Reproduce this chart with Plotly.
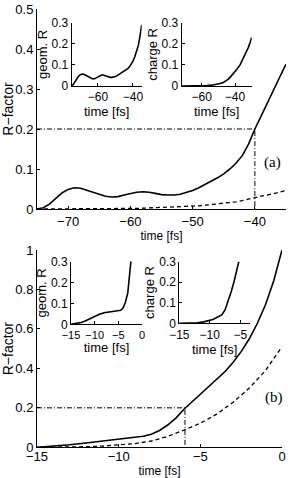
import plotly.graph_objects as go

# ---------------- data ----------------
# panel (a): main R-factor (solid) and charge contribution (dashed)
a_time = [-75, -74, -73, -72, -71, -70, -69, -68, -67, -66, -65, -64, -63, -62, -61,
          -60, -59, -58, -57, -56, -55, -54, -53, -52, -51, -50, -49, -48, -47, -46,
          -45, -44, -43, -42, -41, -40, -39, -38, -37, -36, -35]
a_total = [0, 0.003, 0.012, 0.026, 0.040, 0.049, 0.053, 0.052, 0.047, 0.041, 0.036, 0.032,
           0.030, 0.031, 0.035, 0.039, 0.042, 0.043, 0.042, 0.039, 0.036, 0.035, 0.035, 0.037,
           0.041, 0.046, 0.053, 0.061, 0.069, 0.078, 0.088, 0.100, 0.115, 0.134, 0.163, 0.200,
           0.232, 0.266, 0.298, 0.330, 0.362]
a_dashed = [0, 0, 0, 0, 0, 0, 0, 0, 0, 0, 0, 0, 0, 0, 0.0005,
            0.001, 0.0015, 0.002, 0.0025, 0.003, 0.0035, 0.004, 0.005, 0.006, 0.0065, 0.007,
            0.008, 0.0095, 0.011, 0.012, 0.014, 0.016, 0.018, 0.021, 0.025, 0.029,
            0.032, 0.035, 0.038, 0.042, 0.046]
a_geom = [0, 0.008, 0.022, 0.036, 0.047, 0.054, 0.057, 0.056, 0.051, 0.045, 0.039, 0.035,
          0.033, 0.034, 0.038, 0.044, 0.049, 0.052, 0.052, 0.049, 0.045, 0.042, 0.041, 0.041,
          0.042, 0.045, 0.049, 0.054, 0.059, 0.064, 0.069, 0.075, 0.082, 0.091, 0.103, 0.118,
          0.137, 0.160, 0.190, 0.235, 0.290]
a_charge_time = [-72, -66, -60, -57, -54, -51, -49, -47, -45, -44, -43, -42, -41, -39, -37,
                 -35, -33, -32, -31, -30]
a_charge = [0, 0, 0.001, 0.002, 0.004, 0.008, 0.012, 0.017, 0.026, 0.033, 0.041, 0.049,
            0.057, 0.078, 0.100, 0.131, 0.163, 0.183, 0.205, 0.230]
a_threshold = 0.2
a_cross_time = -40

# panel (b)
b_time = [-15, -14, -13, -12, -11, -10, -9, -8.5, -8, -7.5, -7, -6.5, -6, -5.5, -5, -4.5,
          -4, -3.5, -3, -2.5, -2, -1.5, -1, -0.5, 0]
b_total = [0, 0.005, 0.013, 0.022, 0.031, 0.040, 0.050, 0.056, 0.066, 0.085, 0.113, 0.148,
           0.193, 0.231, 0.267, 0.303, 0.341, 0.383, 0.430, 0.485, 0.550, 0.630, 0.725,
           0.845, 1.0]
b_dashed_time = [-15, -14, -13, -12, -11, -10, -9, -8, -7, -6, -5, -4, -3, -2, -1, 0]
b_dashed = [0, 0, 0.001, 0.003, 0.006, 0.011, 0.019, 0.032, 0.055, 0.087, 0.122, 0.168,
            0.228, 0.300, 0.390, 0.510]
b_geom_time = [-15, -14, -13, -12, -11, -10, -9, -8, -7, -6, -5, -4.5, -4, -3.5, -3, -2.5, -2]
b_geom = [0, 0.003, 0.008, 0.016, 0.027, 0.038, 0.048, 0.055, 0.058, 0.060, 0.063, 0.067,
          0.078, 0.105, 0.150, 0.260, 0.380]
b_charge_time = [-15, -13, -12, -11, -10, -9.5, -9, -8.5, -8, -7.5, -7, -6.5, -6, -5.5, -5]
b_charge = [0, 0.001, 0.003, 0.007, 0.013, 0.019, 0.026, 0.033, 0.042, 0.065, 0.105, 0.152,
            0.205, 0.265, 0.330]
b_threshold = 0.2
b_cross_time = -5.94

# ---------------- layout helpers ----------------
W, H = 288, 478


def dom_x(left, right):
    return [left / W, right / W]


def dom_y(top, bottom):
    return [1 - bottom / H, 1 - top / H]


FONT = "Liberation Sans, Arial, Helvetica, sans-serif"


def axis(size=13, **kw):
    d = dict(showline=True, linecolor="black", linewidth=1, ticks="inside", ticklen=3,
             tickwidth=1, tickcolor="black", showgrid=False, zeroline=False, mirror=False,
             tickfont=dict(family=FONT, size=size, color="black"), fixedrange=True,
             automargin=False, tickangle=0)
    d.update(kw)
    return d


fig = go.Figure()

solid = dict(color="black", width=1.6)
dashed = dict(color="black", width=1.3, dash="4px,3px")
dashdot = dict(color="black", width=1, dash="5px,2px,1px,2px")

# panel (a) main
fig.add_trace(go.Scatter(x=a_time, y=a_total, mode="lines", line=solid, xaxis="x", yaxis="y"))
fig.add_trace(go.Scatter(x=a_time, y=a_dashed, mode="lines", line=dashed, xaxis="x", yaxis="y"))
fig.add_trace(go.Scatter(x=[a_time[0], a_cross_time, a_cross_time], y=[a_threshold, a_threshold, 0],
                         mode="lines", line=dashdot, xaxis="x", yaxis="y"))
# panel (a) insets
fig.add_trace(go.Scatter(x=a_time, y=a_geom, mode="lines", line=solid, xaxis="x2", yaxis="y2"))
fig.add_trace(go.Scatter(x=a_charge_time, y=a_charge, mode="lines", line=solid, xaxis="x3", yaxis="y3"))

# panel (b) main
fig.add_trace(go.Scatter(x=b_time, y=b_total, mode="lines", line=solid, xaxis="x4", yaxis="y4"))
fig.add_trace(go.Scatter(x=b_dashed_time, y=b_dashed, mode="lines", line=dashed, xaxis="x4", yaxis="y4"))
fig.add_trace(go.Scatter(x=[b_time[0], b_cross_time, b_cross_time], y=[b_threshold, b_threshold, 0],
                         mode="lines", line=dashdot, xaxis="x4", yaxis="y4"))
# panel (b) insets
fig.add_trace(go.Scatter(x=b_geom_time, y=b_geom, mode="lines", line=solid, xaxis="x5", yaxis="y5"))
fig.add_trace(go.Scatter(x=b_charge_time, y=b_charge, mode="lines", line=solid, xaxis="x6", yaxis="y6"))


def xtitle_main(standoff):
    return dict(text="time [fs]", font=dict(family=FONT, size=12, color="black"), standoff=standoff)


xtitle_inset = dict(text="time [fs]", font=dict(family=FONT, size=13, color="black"), standoff=0)
ytitle_main = dict(text="R\u2212factor", font=dict(family=FONT, size=14, color="black"), standoff=2)


def ytitle_inset(t):
    return dict(text=t, font=dict(family=FONT, size=13, color="black"), standoff=1)


fig.update_layout(
    width=W, height=H, margin=dict(l=0, r=0, t=0, b=0, autoexpand=False),
    paper_bgcolor="white", plot_bgcolor="rgba(0,0,0,0)", showlegend=False,
    # (a) main
    xaxis=axis(domain=dom_x(37, 286), range=[-75, -35], tickvals=[-70, -60, -50, -40],
               anchor="y", title=xtitle_main(2)),
    yaxis=axis(domain=dom_y(9, 209), range=[0, 0.5], tickvals=[0, 0.1, 0.2, 0.3, 0.4, 0.5],
               anchor="x", title=ytitle_main),
    # (a) inset geom
    xaxis2=axis(size=12, domain=dom_x(71.7, 141.7), range=[-75, -35], tickvals=[-60, -40],
                anchor="y2", title=xtitle_inset),
    yaxis2=axis(size=12, domain=dom_y(22.7, 86), range=[0, 0.3], tickvals=[0, 0.1, 0.2, 0.3],
                anchor="x2", title=ytitle_inset("geom. R")),
    # (a) inset charge
    xaxis3=axis(size=12, domain=dom_x(181.7, 251.7), range=[-72, -30], tickvals=[-60, -40],
                anchor="y3", title=xtitle_inset),
    yaxis3=axis(size=12, domain=dom_y(22.7, 86), range=[0, 0.3], tickvals=[0, 0.1, 0.2, 0.3],
                anchor="x3", title=ytitle_inset("charge R")),
    # (b) main
    xaxis4=axis(domain=dom_x(37, 282), range=[-15, 0], tickvals=[-15, -10, -5, 0],
                anchor="y4", title=xtitle_main(4), ticklabelstandoff=-3),
    yaxis4=axis(domain=dom_y(250, 447.3), range=[0, 1], tickvals=[0, 0.2, 0.4, 0.6, 0.8, 1],
                anchor="x4", title=ytitle_main),
    # (b) inset geom
    xaxis5=axis(size=11, domain=dom_x(71, 142), range=[-15, 0], tickvals=[-15, -10, -5, 0],
                anchor="y5", title=xtitle_inset),
    yaxis5=axis(size=12, domain=dom_y(261.5, 324.3), range=[0, 0.3], tickvals=[0, 0.1, 0.2, 0.3],
                anchor="x5", title=ytitle_inset("geom. R")),
    # (b) inset charge
    xaxis6=axis(size=12, domain=dom_x(179.3, 250), range=[-15, -3.4], tickvals=[-15, -10, -5],
                anchor="y6", title=xtitle_inset),
    yaxis6=axis(size=12, domain=dom_y(261.7, 323.3), range=[0, 0.3], tickvals=[0, 0.1, 0.2, 0.3],
                anchor="x6", title=ytitle_inset("charge R")),
    annotations=[
        dict(text="(a)", x=262 / W, y=1 - 163 / H, xref="paper", yref="paper", showarrow=False,
             xanchor="left",
             font=dict(family="Liberation Serif, Times New Roman, serif", size=15, color="black")),
        dict(text="(b)", x=263 / W, y=1 - 408 / H, xref="paper", yref="paper", showarrow=False,
             xanchor="left",
             font=dict(family="Liberation Serif, Times New Roman, serif", size=15, color="black")),
    ],
)

fig.write_html("out.html", config={"displayModeBar": False},
               post_script="document.body.style.margin='0px';document.body.style.overflow='hidden';")
